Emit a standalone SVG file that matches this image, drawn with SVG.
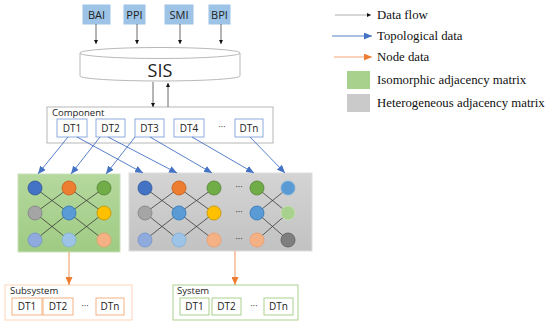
<svg xmlns="http://www.w3.org/2000/svg" width="550" height="327" viewBox="0 0 550 327">
<defs>
<style>
.sans{font-family:"Open Sans","Liberation Sans",sans-serif;fill:#222}
.serif{font-family:"Liberation Serif",serif;font-size:12.8px;fill:#111}
.src{fill:#9dc3e6;stroke:#9dc3e6}
.dt{fill:#fff;stroke:#8faadc;stroke-width:1}
.dto{fill:#fff;stroke:#f4b183;stroke-width:1}
.dtg{fill:#fff;stroke:#a9d18e;stroke-width:1}
.flow{stroke:#444;stroke-width:0.8;fill:none;marker-end:url(#ab)}
.topo{stroke:#4472c4;stroke-width:0.9;fill:none;marker-end:url(#au)}
.node{stroke:#f4a774;stroke-width:1.2;fill:none;marker-end:url(#ao)}
.edge{stroke:#333;stroke-width:0.75;fill:none}
.c{stroke-width:0.8}
</style>
<marker id="ab" markerWidth="4" markerHeight="4" refX="4" refY="2" orient="auto" markerUnits="userSpaceOnUse"><path d="M0,0 L4,2 L0,4 Z" fill="#111"/></marker>
<marker id="au" markerWidth="8" markerHeight="7" refX="8" refY="3.5" orient="auto" markerUnits="userSpaceOnUse"><path d="M0,0 L8,3.5 L0,7 Z" fill="#4472c4"/></marker>
<marker id="ao" markerWidth="8" markerHeight="7" refX="8" refY="3.5" orient="auto" markerUnits="userSpaceOnUse"><path d="M0,0 L8,3.5 L0,7 Z" fill="#ed7d31"/></marker>
<linearGradient id="gg" x1="0" y1="0" x2="0" y2="1"><stop offset="0" stop-color="#b5d89e"/><stop offset="1" stop-color="#9fcb83"/></linearGradient>
<linearGradient id="gy" x1="0" y1="0" x2="0" y2="1"><stop offset="0" stop-color="#d4d4d4"/><stop offset="1" stop-color="#c2c2c2"/></linearGradient>
</defs>
<rect width="550" height="327" fill="#fff"/>

<g id="legend">
<line x1="335" y1="15" x2="371" y2="15" stroke="#999" stroke-width="0.8" marker-end="url(#ab)"/>
<text class="serif" x="377" y="19">Data flow</text>
<line x1="332" y1="36" x2="372" y2="36" stroke="#4472c4" stroke-width="0.9" marker-end="url(#au)"/>
<text class="serif" x="377" y="40">Topological data</text>
<line x1="334" y1="57" x2="372" y2="57" stroke="#f4a774" stroke-width="1" marker-end="url(#ao)"/>
<text class="serif" x="377" y="61">Node data</text>
<rect x="347" y="71" width="23" height="18" fill="#a9d18e"/>
<text class="serif" x="377" y="84">Isomorphic adjacency matrix</text>
<rect x="347" y="94" width="23" height="18" fill="#cacaca"/>
<text class="serif" x="377" y="107">Heterogeneous adjacency matrix</text>
</g>

<g id="BAI"><rect class="src" x="83" y="5" width="27" height="19"/><text class="sans" x="96.5" y="18.5" font-size="11" text-anchor="middle">BAI</text></g>
<g id="PPI"><rect class="src" x="124" y="5" width="21" height="19"/><text class="sans" x="134.5" y="18.5" font-size="11" text-anchor="middle">PPI</text></g>
<g id="SMI"><rect class="src" x="165" y="5" width="28" height="19"/><text class="sans" x="179" y="18.5" font-size="11" text-anchor="middle">SMI</text></g>
<g id="BPI"><rect class="src" x="209" y="5" width="21" height="19"/><text class="sans" x="219.5" y="18.5" font-size="11" text-anchor="middle">BPI</text></g>

<g id="SIS">
<path d="M80,53 L80,76 A80,5 0 0 0 240,76 L240,53" fill="#fff" stroke="#a6a6a6" stroke-width="0.8"/>
<ellipse cx="160" cy="53" rx="80" ry="5.5" fill="#fff" stroke="#a6a6a6" stroke-width="0.8"/>
<text class="sans" x="160" y="77" font-size="18" text-anchor="middle">SIS</text>
</g>

<g id="Component">
<rect x="47" y="107" width="226" height="36" fill="#fff" stroke="#a6a6a6" stroke-width="0.8"/>
<text class="sans" x="52" y="116" font-size="9.5">Component</text>
<rect class="dt" x="57" y="119" width="30" height="18"/><text class="sans" x="72" y="131.5" font-size="10" text-anchor="middle">DT1</text>
<rect class="dt" x="96" y="119" width="29" height="18"/><text class="sans" x="110.5" y="131.5" font-size="10" text-anchor="middle">DT2</text>
<rect class="dt" x="135" y="119" width="29" height="18"/><text class="sans" x="149.5" y="131.5" font-size="10" text-anchor="middle">DT3</text>
<rect class="dt" x="174" y="119" width="30" height="18"/><text class="sans" x="189" y="131.5" font-size="10" text-anchor="middle">DT4</text>
<text class="sans" x="222" y="130" font-size="9" text-anchor="middle">···</text>
<rect class="dt" x="235" y="119" width="28" height="18"/><text class="sans" x="249" y="131.5" font-size="10" text-anchor="middle">DTn</text>
</g>

<g id="IsoMatrix">
<rect x="18" y="174" width="102" height="78" fill="url(#gg)" stroke="#c9e0ba" stroke-width="1"/>
<path class="edge" d="M35,188 L69,213 M35,213 L69,188 M35,213 L69,240 M35,240 L69,213 M69,188 L104,213 M69,213 L104,188 M69,213 L104,240 M69,240 L104,213"/>
<circle class="c" cx="35" cy="188" r="7" fill="#4472c4" stroke="#2f5597"/>
<circle class="c" cx="69" cy="188" r="7" fill="#ed7d31" stroke="#c55a11"/>
<circle class="c" cx="104" cy="188" r="7" fill="#70ad47" stroke="#548235"/>
<circle class="c" cx="35" cy="213" r="7" fill="#a5a5a5" stroke="#7f7f7f"/>
<circle class="c" cx="69" cy="213" r="7" fill="#5b9bd5" stroke="#2e75b6"/>
<circle class="c" cx="104" cy="213" r="7" fill="#ffc000" stroke="#bf9000"/>
<circle class="c" cx="35" cy="240" r="7" fill="#8faadc" stroke="#7293cb"/>
<circle class="c" cx="69" cy="240" r="7" fill="#9dc3e6" stroke="#7fb0dc"/>
<circle class="c" cx="104" cy="240" r="7" fill="#f4b183" stroke="#ee9a6a"/>
</g>

<g id="HeteroMatrix">
<rect x="129" y="173" width="183" height="78" fill="url(#gy)" stroke="#dedede" stroke-width="1"/>
<path class="edge" d="M145,188 L179,213 M145,213 L179,188 M145,213 L179,240 M145,240 L179,213 M179,188 L214,213 M179,213 L214,188 M179,213 L214,240 M179,240 L214,213 M257,188 L288,213 M257,213 L288,188 M257,213 L288,240 M257,240 L288,213"/>
<circle class="c" cx="145" cy="188" r="7" fill="#4472c4" stroke="#2f5597"/>
<circle class="c" cx="179" cy="188" r="7" fill="#ed7d31" stroke="#c55a11"/>
<circle class="c" cx="214" cy="188" r="7" fill="#70ad47" stroke="#548235"/>
<circle class="c" cx="145" cy="213" r="7" fill="#a5a5a5" stroke="#7f7f7f"/>
<circle class="c" cx="179" cy="213" r="7" fill="#5b9bd5" stroke="#2e75b6"/>
<circle class="c" cx="214" cy="213" r="7" fill="#ffc000" stroke="#bf9000"/>
<circle class="c" cx="145" cy="240" r="7" fill="#8faadc" stroke="#7293cb"/>
<circle class="c" cx="179" cy="240" r="7" fill="#9dc3e6" stroke="#7fb0dc"/>
<circle class="c" cx="214" cy="240" r="7" fill="#f4b183" stroke="#ee9a6a"/>
<text class="sans" x="239" y="190" font-size="9" text-anchor="middle">···</text>
<text class="sans" x="239" y="215" font-size="9" text-anchor="middle">···</text>
<text class="sans" x="239" y="242" font-size="9" text-anchor="middle">···</text>
<circle class="c" cx="257" cy="188" r="7" fill="#70ad47" stroke="#548235"/>
<circle class="c" cx="257" cy="213" r="7" fill="#5b9bd5" stroke="#2e75b6"/>
<circle class="c" cx="257" cy="240" r="7" fill="#f4b183" stroke="#ee9a6a"/>
<circle class="c" cx="288" cy="188" r="7" fill="#5b9bd5" stroke="#7fb0dc"/>
<circle class="c" cx="288" cy="213" r="7" fill="#a9d18e" stroke="#c5e0b4"/>
<circle class="c" cx="288" cy="240" r="7" fill="#7f7f7f" stroke="#595959"/>
</g>

<g id="Subsystem">
<rect x="5" y="285" width="127" height="35" fill="#fff" stroke="#fbd5bb" stroke-width="1"/>
<text class="sans" x="10" y="294" font-size="9.5">Subsystem</text>
<rect class="dto" x="12" y="298" width="30" height="17"/><text class="sans" x="27" y="310" font-size="10" text-anchor="middle">DT1</text>
<rect class="dto" x="43" y="298" width="30" height="17"/><text class="sans" x="58" y="310" font-size="10" text-anchor="middle">DT2</text>
<text class="sans" x="85" y="309" font-size="9" text-anchor="middle">···</text>
<rect class="dto" x="96" y="298" width="28" height="17"/><text class="sans" x="110" y="310" font-size="10" text-anchor="middle">DTn</text>
</g>

<g id="System">
<rect x="173" y="285" width="125" height="35" fill="#fff" stroke="#a9d18e" stroke-width="1"/>
<text class="sans" x="177" y="294" font-size="9.5">System</text>
<rect class="dtg" x="180" y="298" width="29" height="17"/><text class="sans" x="194.5" y="310" font-size="10" text-anchor="middle">DT1</text>
<rect class="dtg" x="212" y="298" width="29" height="17"/><text class="sans" x="226.5" y="310" font-size="10" text-anchor="middle">DT2</text>
<text class="sans" x="254" y="309" font-size="9" text-anchor="middle">···</text>
<rect class="dtg" x="264" y="298" width="29" height="17"/><text class="sans" x="278.5" y="310" font-size="10" text-anchor="middle">DTn</text>
</g>

<g id="connectors">
<line class="flow" x1="96" y1="24" x2="96" y2="44"/>
<line class="flow" x1="137" y1="24" x2="137" y2="44"/>
<line class="flow" x1="180" y1="24" x2="180" y2="44"/>
<line class="flow" x1="221" y1="24" x2="221" y2="44"/>
<line class="flow" x1="153" y1="82" x2="153" y2="107"/>
<line class="flow" x1="168" y1="107" x2="168" y2="83"/>
<line class="topo" x1="68" y1="137" x2="38" y2="174"/>
<line class="topo" x1="77" y1="137" x2="143" y2="173"/>
<line class="topo" x1="100" y1="137" x2="71" y2="174"/>
<line class="topo" x1="108" y1="137" x2="177" y2="173"/>
<line class="topo" x1="135" y1="137" x2="106" y2="174"/>
<line class="topo" x1="150" y1="137" x2="212" y2="173"/>
<line class="topo" x1="192" y1="137" x2="254" y2="173"/>
<line class="topo" x1="250" y1="137" x2="285" y2="173"/>
<line class="node" x1="69" y1="252" x2="69" y2="285"/>
<line class="node" x1="235" y1="251" x2="235" y2="285"/>
</g>
</svg>
